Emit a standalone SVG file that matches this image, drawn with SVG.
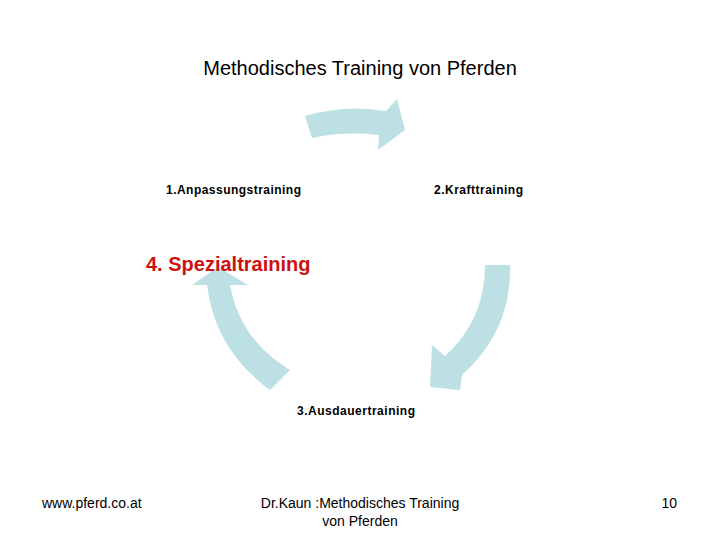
<svg xmlns="http://www.w3.org/2000/svg" width="720" height="540" viewBox="0 0 720 540">
<style>
.t{font-family:"Liberation Sans",Arial,sans-serif;fill:#000}
.lbl{font-family:"Liberation Sans",Arial,sans-serif;font-weight:bold;font-size:12px;fill:#000}
.arr{fill:#BCE0E4;stroke:none}
</style>
<rect width="720" height="540" fill="#fff"/>
<text class="t" x="360" y="75" font-size="20" text-anchor="middle">Methodisches Training von Pferden</text>
<g id="connectors">
<path class="arr" d="M305,116 Q345,104 386,111 L397,99 L405,130 L378,150 L379,135 Q345,131 312,138 Z"/>
<path class="arr" d="M485,265 L510,265 Q512,330 462,375 L460,390 L430,387 L432,345 L445,356 Q485,320 485,265 Z"/>
<path class="arr" d="M218,267 L248,285 L230,285 Q240,340 290,370 L270,390 Q215,350 207,285 L192,285 Z"/>
</g>
<g id="n1"><text class="lbl" x="166" y="194" textLength="135" lengthAdjust="spacing">1.Anpassungstraining</text></g>
<g id="n2"><text class="lbl" x="434" y="194" textLength="89" lengthAdjust="spacing">2.Krafttraining</text></g>
<g id="n3"><text class="lbl" x="297" y="415" textLength="118" lengthAdjust="spacing">3.Ausdauertraining</text></g>
<g id="n4"><text x="146" y="271" font-family="Liberation Sans,Arial,sans-serif" font-weight="bold" font-size="20" fill="#CC1111">4. Spezialtraining</text></g>
<text class="t" x="42" y="508" font-size="14">www.pferd.co.at</text>
<text class="t" x="360" y="508" font-size="14" text-anchor="middle">Dr.Kaun :Methodisches Training</text>
<text class="t" x="360" y="526" font-size="14" text-anchor="middle">von Pferden</text>
<text class="t" x="677" y="508" font-size="14" text-anchor="end">10</text>
</svg>
